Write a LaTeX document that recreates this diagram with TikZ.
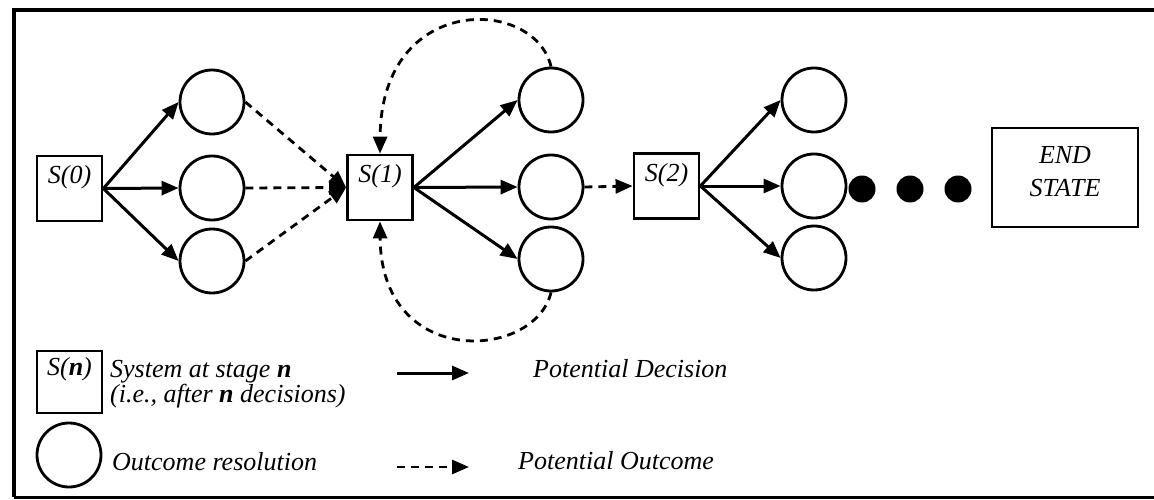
\documentclass[tikz,border=0pt]{standalone}
\usepackage{fontspec}
\setmainfont{Liberation Serif}
\usetikzlibrary{arrows.meta}
\begin{document}
\begin{tikzpicture}[x=1pt,y=-1pt,
  every node/.style={inner sep=0pt, font=\fontsize{26}{33}\selectfont\itshape},
  stage/.style={draw, line width=2.8pt, minimum width=65pt, minimum height=65pt},
  outcome/.style={draw, circle, line width=2.8pt, minimum size=64pt},
  dot/.style={fill, circle, minimum size=27pt},
  decision/.style={line width=3pt, -{Triangle[length=17pt,width=14pt]}},
  result/.style={line width=2.8pt, dash pattern=on 8pt off 6pt, -{Triangle[length=17pt,width=14pt]}},
  txt/.style={anchor=base west},
  boxtxt/.style={anchor=base},
]
\useasboundingbox (0,0) rectangle (1154,500);

% outer frame
\draw[line width=4.5pt] (1154,10) -| (14,497);
\draw[line width=3pt] (14,497) -- (1154,497);

% stage 0
\node[stage] (s0) at (69.5,188.5) {};
\node[boxtxt] (s0t) at ([yshift=-29pt]s0.north) {S(0)};
\node[outcome] (c1a) at (212,102) {};
\node[outcome] (c1b) at (212,188) {};
\node[outcome] (c1c) at (212,261) {};

% stage 1
\node[stage] (s1) at (380,187.5) {};
\node[boxtxt] (s1t) at ([yshift=-29pt]s1.north) {S(1)};
\node[outcome] (c2a) at (551,100) {};
\node[outcome] (c2b) at (551,187) {};
\node[outcome] (c2c) at (551,259) {};

% stage 2
\node[stage] (s2) at (666.5,186) {};
\node[boxtxt] (s2t) at ([yshift=-29pt]s2.north) {S(2)};
\node[outcome] (c3a) at (814,100) {};
\node[outcome] (c3b) at (814,186) {};
\node[outcome] (c3c) at (814,258) {};

% continuation dots and end state
\node[dot] (d1) at (862,189) {};
\node[dot] (d2) at (910,189) {};
\node[dot] (d3) at (958,189) {};
\node[stage, minimum width=146pt, minimum height=99pt] (end) at (1065,177.5) {};
\node[align=center] (endt) at (1065,172) {END\\STATE};

% decisions
\foreach \c in {c1a,c1b,c1c} \draw[decision] (s0.east) -- (\c.west);
\foreach \c in {c2a,c2b,c2c} \draw[decision] (s1.east) -- (\c.west);
\foreach \c in {c3a,c3b,c3c} \draw[decision] (s2.east) -- (\c.west);

% outcomes
\foreach \c in {c1a,c1b,c1c} \draw[result] (\c.east) -- (s1.west);
\draw[result] (c2b.east) -- (s2.west);
\draw[result] (c2a.north) .. controls (535,-3) and (381,-8) .. (s1.north);
\draw[result] (c2c.south) .. controls (535,360) and (381,370) .. (s1.south);

% legend
\node[stage, minimum height=62pt] (ls) at (69.5,382) {};
\node[boxtxt] (lst) at ([yshift=-26pt]ls.north) {S(\textbf{n})};
\node[txt] (lt1) at (110,377) {System at stage \textbf{n}};
\node[txt] (lt2) at (110,402) {(i.e., after \textbf{n} decisions)};
\node[outcome] (lc) at (69,455) {};
\node[txt] (lt3) at (112,470) {Outcome resolution};

\coordinate (la1) at (397,373);
\coordinate (la2) at (469,373);
\draw[decision] (la1) -- (la2);
\node[txt] (lt4) at (533,377) {Potential Decision};

\coordinate (lb1) at (397,467);
\coordinate (lb2) at (469,467);
\draw[result] (lb1) -- (lb2);
\node[txt] (lt5) at (518,469) {Potential Outcome};
\end{tikzpicture}
\end{document}
